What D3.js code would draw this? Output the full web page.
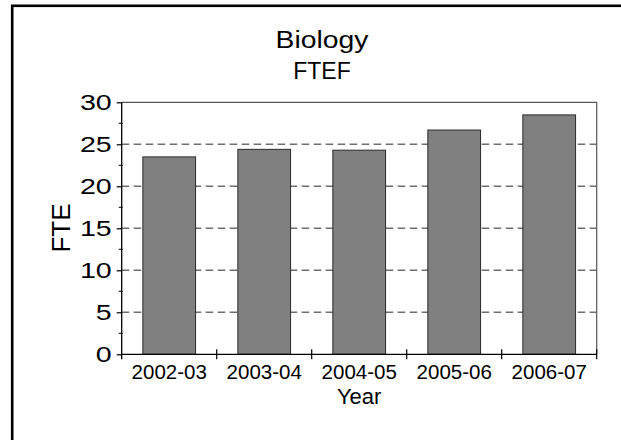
<!DOCTYPE html>
<html>
<head>
<meta charset="utf-8">
<script src="https://cdn.jsdelivr.net/npm/d3@7"></script>
<style>
  html, body { margin: 0; padding: 0; background: #fff; }
  svg { display: block; font-family: "Liberation Sans", Arial, sans-serif; }
</style>
</head>
<body>
<svg id="chart" width="621" height="440"></svg>
<script>
const categories = ["2002-03", "2003-04", "2004-05", "2005-06", "2006-07"];
const fteValues = [23.5, 24.4, 24.3, 26.7, 28.5];
const yTicks = [0, 5, 10, 15, 20, 25, 30];
const yMinorTicks = [2.5, 7.5, 12.5, 17.5, 22.5, 27.5];
const titleLines = ["Biology", "FTEF"];
const xTitle = "Year";
const yTitle = "FTE";

(function () {
const svg = d3.select("#chart");
const pL = 121.7, pR = 596.7, pT = 102.3, pB = 354.3;

// outer frame (extends beyond the visible page on right/bottom)
svg.append("rect")
  .attr("x", 12.2).attr("y", 5.8).attr("width", 700).attr("height", 600)
  .attr("fill", "none").attr("stroke", "#000").attr("stroke-width", 2.6);

const x = d3.scaleBand().domain(categories).range([pL, pR])
  .paddingInner(0.445).paddingOuter(0.2225);
const y = d3.scaleLinear().domain([0, 30]).range([pB, pT]);

// gridlines
svg.append("g").selectAll("line").data(yTicks.filter(d => d > 0 && d < 30)).join("line")
  .attr("x1", pL).attr("x2", pR)
  .attr("y1", d => y(d)).attr("y2", d => y(d))
  .attr("stroke", "#6e6e6e").attr("stroke-width", 1.4)
  .attr("stroke-dasharray", "7.5,4.5");

// plot frame top & right
svg.append("path")
  .attr("d", `M${pL},${pT}H${pR}V${pB}`)
  .attr("fill", "none").attr("stroke", "#555").attr("stroke-width", 1.2);

// bars
svg.append("g").selectAll("rect").data(fteValues).join("rect")
  .attr("x", (d, i) => x(categories[i]))
  .attr("y", d => y(d))
  .attr("width", x.bandwidth())
  .attr("height", d => pB - y(d))
  .attr("fill", "#808080").attr("stroke", "#2a2a2a").attr("stroke-width", 1);

// y axis
const sx = 1.3;
const yAxis = d3.axisLeft(y).tickValues(yTicks).tickSize(5).tickPadding(5);
const gy = svg.append("g").attr("transform", `translate(${pL},0)`).call(yAxis);
gy.select(".domain").attr("d", `M0,${pT}V${pB + 5}`).attr("stroke", "#000").attr("stroke-width", 1.3);
gy.selectAll(".tick line").attr("stroke", "#000").attr("stroke-width", 1.2);
gy.selectAll(".tick text").attr("font-size", 22).attr("fill", "#000")
  .attr("font-family", "Liberation Sans, Arial, sans-serif")
  .attr("x", -10 / sx).attr("transform", `scale(${sx},1)`);
gy.append("g").selectAll("line").data(yMinorTicks).join("line")
  .attr("x1", -3).attr("x2", 1).attr("y1", d => y(d)).attr("y2", d => y(d))
  .attr("stroke", "#000").attr("stroke-width", 1);

// x axis line and boundary ticks
const boundaries = categories.map(c => x(c) - x.step() * x.paddingInner() / 2).concat([pR]);
svg.append("line").attr("x1", pL).attr("x2", pR).attr("y1", pB).attr("y2", pB)
  .attr("stroke", "#000").attr("stroke-width", 1.3);
svg.append("g").selectAll("line").data(boundaries.slice(1)).join("line")
  .attr("x1", d => d).attr("x2", d => d).attr("y1", pB - 5).attr("y2", pB + 5)
  .attr("stroke", "#000").attr("stroke-width", 1.2);
svg.append("g").selectAll("text").data(categories).join("text")
  .attr("x", d => x(d) + x.bandwidth() / 2).attr("y", 379)
  .attr("text-anchor", "middle").attr("font-size", 20.5).attr("fill", "#000")
  .text(d => d);

// titles
svg.append("text").attr("transform", "translate(322,48.3) scale(1.18,1)").attr("text-anchor", "middle")
  .attr("font-size", 24).text(titleLines[0]);
svg.append("text").attr("x", 322).attr("y", 79.3).attr("text-anchor", "middle")
  .attr("font-size", 23).text(titleLines[1]);
svg.append("text").attr("x", (pL + pR) / 2).attr("y", 404).attr("text-anchor", "middle")
  .attr("font-size", 22).text(xTitle);
svg.append("text").attr("transform", `translate(70,228) rotate(-90)`).attr("text-anchor", "middle")
  .attr("font-size", 26).text(yTitle);
})();
</script>
</body>
</html>
